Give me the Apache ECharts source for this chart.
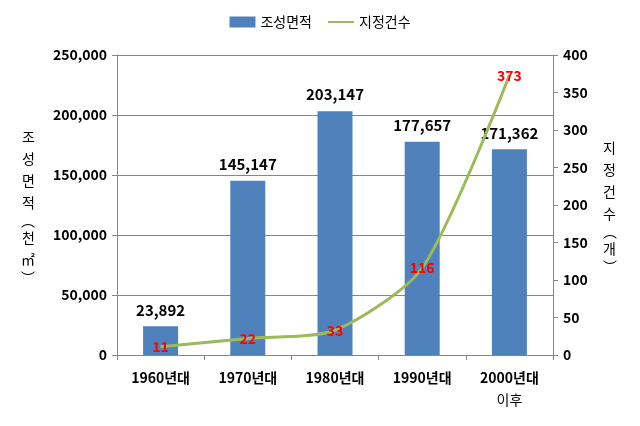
<!DOCTYPE html>
<html><head><meta charset="utf-8">
<script src="https://cdn.jsdelivr.net/npm/echarts@6/dist/echarts.min.js"></script>
<style>html,body{margin:0;padding:0;background:#fff}#c{width:640px;height:426px}</style>
</head><body><div id="c"></div>
<script>
var categories = ['1960년대','1970년대','1980년대','1990년대','2000년대\n이후'];
var areaValues = [23892,145147,203147,177657,171362];
var countValues = [11,22,33,116,373];
var leftTicks = [0,50000,100000,150000,200000,250000];
var rightTicks = [0,50,100,150,200,250,300,350,400];
var leftName = ['조','성','면','적','︵','천','㎡','︶'];
var rightName = ['지','정','건','수','︵','개','︶'];

var F = '"Noto Sans CJK KR", "Noto Sans", sans-serif';
function vname(arr){
  return arr.map(function(ch){return (ch==='︵'||ch==='︶') ? '{p|'+ch+'}' : '{c|'+ch+'}';}).join('\n');
}
var nameRich = {
  c:{fontSize:14, color:'#000', lineHeight:22, fontFamily:F},
  p:{fontSize:14, color:'#000', lineHeight:13, fontFamily:F}
};
var chart = echarts.init(document.getElementById('c'));
chart.setOption({
  animation:false,
  textStyle:{fontFamily:F},
  legend:{
    top:10, left:'center', itemGap:16, itemWidth:26, itemHeight:11,
    textStyle:{fontSize:14, color:'#000', fontFamily:F},
    data:[{name:'조성면적', icon:'rect'},
          {name:'지정건수', icon:'path://M0,0 L0,0 M0,4.5 L26,4.5 L26,6.5 L0,6.5 Z M26,11 L26,11'}]
  },
  grid:{left:117, right:87, top:55, bottom:71},
  xAxis:{
    type:'category', data:categories,
    axisLine:{lineStyle:{color:'#868686'}},
    axisTick:{show:true, length:5, lineStyle:{color:'#868686'}},
    axisLabel:{
      interval:0, margin:12, color:'#000', fontSize:14, fontWeight:'bold', fontFamily:F, lineHeight:22,
      formatter:function(v){
        var p=v.split('\n');
        return p.length>1 ? '{b|'+p[0]+'}\n{n|'+p[1]+'}' : '{b|'+v+'}';
      },
      rich:{
        b:{fontSize:14,fontWeight:'bold',color:'#000',fontFamily:F,lineHeight:22},
        n:{fontSize:14,fontWeight:'normal',color:'#000',fontFamily:F,lineHeight:22}
      }
    }
  },
  yAxis:[{
    type:'value', min:leftTicks[0], max:leftTicks[leftTicks.length-1], interval:50000,
    name:vname(leftName), nameLocation:'middle', nameRotate:0, nameGap:82,
    nameTextStyle:{fontSize:14, color:'#000', fontFamily:F, rich:nameRich},
    axisLine:{show:true, lineStyle:{color:'#868686'}},
    axisTick:{show:true, length:5, lineStyle:{color:'#868686'}},
    splitLine:{lineStyle:{color:'#868686'}},
    axisLabel:{margin:10, color:'#000', fontSize:14, fontWeight:'bold', fontFamily:F,
      formatter:function(v){return v.toLocaleString('en-US');}}
  },{
    type:'value', min:rightTicks[0], max:rightTicks[rightTicks.length-1], interval:50,
    name:vname(rightName), nameLocation:'middle', nameRotate:0, nameGap:50,
    nameTextStyle:{fontSize:14, color:'#000', fontFamily:F, rich:nameRich},
    axisLine:{show:true, lineStyle:{color:'#868686'}},
    axisTick:{show:true, length:5, lineStyle:{color:'#868686'}},
    splitLine:{show:false},
    axisLabel:{margin:10, color:'#000', fontSize:14, fontWeight:'bold', fontFamily:F}
  }],
  series:[{
    name:'조성면적', type:'bar', data:areaValues, barWidth:35, yAxisIndex:0,
    itemStyle:{color:'#4F81BD'},
    label:{show:true, position:'top', distance:9, color:'#000', fontSize:15, fontWeight:'bold', fontFamily:F,
      formatter:function(p){return p.value.toLocaleString('en-US');}}
  },{
    name:'지정건수', type:'line', data:countValues, yAxisIndex:1, smooth:0.25,
    showSymbol:true, symbol:'circle', symbolSize:1,
    lineStyle:{color:'#9BBB59', width:3}, itemStyle:{color:'#9BBB59'},
    label:{show:true, position:'inside', color:'#FF0000', fontSize:14, fontWeight:'bold', fontFamily:F}
  }]
});
</script></body></html>
